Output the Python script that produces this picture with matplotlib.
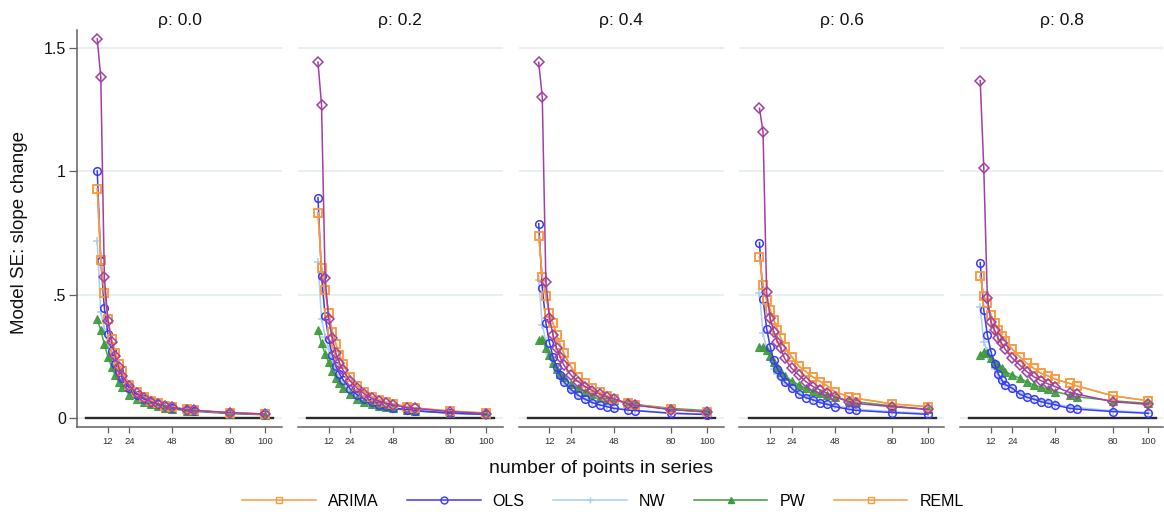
import matplotlib
matplotlib.use("Agg")
import matplotlib.pyplot as plt
from matplotlib.lines import Line2D

plt.rcParams['font.family'] = ['Liberation Sans', 'DejaVu Sans']

# ---------------- data ----------------
n_points = [6, 8, 10, 12, 14, 16, 18, 20, 24, 28, 32, 36, 40, 44, 48, 56, 60, 80, 100]
rho_labels = ["ρ: 0.0", "ρ: 0.2", "ρ: 0.4", "ρ: 0.6", "ρ: 0.8"]
x_ticks = [12, 24, 48, 80, 100]
y_ticks = [0, 0.5, 1, 1.5]
y_tick_labels = ["0", ".5", "1", "1.5"]

# rho = 0.0
kr_00 = [1.535, 1.38, 0.57, 0.393, 0.309, 0.251, 0.205, 0.171, 0.13, 0.10, 0.082, 0.066, 0.057, 0.049, 0.043, 0.034, 0.031, 0.022, 0.016]
ols_00 = [1.00, 0.636, 0.445, 0.34, 0.27, 0.22, 0.19, 0.16, 0.12, 0.095, 0.078, 0.064, 0.055, 0.047, 0.041, 0.033, 0.030, 0.020, 0.015]
arima_00 = [0.928, 0.64, 0.508, 0.40, 0.32, 0.265, 0.22, 0.19, 0.135, 0.105, 0.085, 0.07, 0.059, 0.05, 0.044, 0.035, 0.031, 0.021, 0.016]
nw_00 = [0.715, 0.43, 0.36, 0.30, 0.24, 0.20, 0.17, 0.145, 0.11, 0.088, 0.072, 0.06, 0.051, 0.045, 0.039, 0.031, 0.028, 0.019, 0.014]
pw_00 = [0.40, 0.356, 0.298, 0.248, 0.208, 0.174, 0.147, 0.127, 0.095, 0.078, 0.065, 0.055, 0.048, 0.042, 0.037, 0.030, 0.027, 0.018, 0.013]

# rho = 0.2
kr_02 = [1.441, 1.267, 0.565, 0.40, 0.323, 0.262, 0.224, 0.194, 0.15, 0.12, 0.097, 0.08, 0.069, 0.059, 0.053, 0.042, 0.039, 0.026, 0.018]
ols_02 = [0.892, 0.575, 0.414, 0.32, 0.255, 0.21, 0.18, 0.155, 0.118, 0.093, 0.076, 0.063, 0.054, 0.047, 0.041, 0.033, 0.030, 0.020, 0.015]
arima_02 = [0.831, 0.609, 0.518, 0.424, 0.35, 0.30, 0.255, 0.22, 0.165, 0.13, 0.105, 0.087, 0.074, 0.064, 0.057, 0.045, 0.041, 0.028, 0.020]
nw_02 = [0.633, 0.40, 0.33, 0.28, 0.23, 0.19, 0.16, 0.14, 0.105, 0.083, 0.068, 0.057, 0.049, 0.043, 0.038, 0.031, 0.028, 0.019, 0.014]
pw_02 = [0.356, 0.302, 0.26, 0.225, 0.19, 0.162, 0.14, 0.122, 0.096, 0.078, 0.065, 0.056, 0.049, 0.043, 0.039, 0.032, 0.029, 0.020, 0.015]

# rho = 0.4
kr_04 = [1.44, 1.298, 0.552, 0.406, 0.336, 0.282, 0.246, 0.215, 0.174, 0.147, 0.127, 0.111, 0.097, 0.086, 0.077, 0.058, 0.052, 0.034, 0.025]
ols_04 = [0.787, 0.528, 0.386, 0.305, 0.248, 0.208, 0.174, 0.147, 0.116, 0.093, 0.076, 0.062, 0.053, 0.046, 0.039, 0.032, 0.030, 0.019, 0.014]
arima_04 = [0.737, 0.572, 0.494, 0.426, 0.383, 0.336, 0.296, 0.262, 0.208, 0.167, 0.14, 0.12, 0.104, 0.09, 0.077, 0.06, 0.053, 0.035, 0.024]
nw_04 = [0.559, 0.377, 0.31, 0.26, 0.22, 0.19, 0.16, 0.14, 0.11, 0.09, 0.075, 0.063, 0.054, 0.047, 0.042, 0.034, 0.031, 0.021, 0.016]
pw_04 = [0.316, 0.318, 0.282, 0.255, 0.221, 0.20, 0.18, 0.165, 0.138, 0.12, 0.107, 0.096, 0.086, 0.078, 0.073, 0.059, 0.055, 0.039, 0.030]

# rho = 0.6
kr_06 = [1.254, 1.159, 0.511, 0.403, 0.35, 0.309, 0.282, 0.242, 0.201, 0.174, 0.147, 0.127, 0.113, 0.10, 0.086, 0.066, 0.059, 0.046, 0.035]
ols_06 = [0.71, 0.482, 0.362, 0.289, 0.235, 0.20, 0.17, 0.147, 0.12, 0.097, 0.082, 0.073, 0.062, 0.055, 0.046, 0.035, 0.031, 0.022, 0.015]
arima_06 = [0.653, 0.538, 0.478, 0.437, 0.397, 0.356, 0.323, 0.289, 0.248, 0.21, 0.188, 0.165, 0.147, 0.13, 0.107, 0.086, 0.08, 0.057, 0.046]
nw_06 = [0.505, 0.343, 0.28, 0.24, 0.20, 0.18, 0.16, 0.14, 0.125, 0.102, 0.088, 0.077, 0.067, 0.06, 0.051, 0.04, 0.036, 0.026, 0.019]
pw_06 = [0.289, 0.289, 0.275, 0.251, 0.228, 0.205, 0.188, 0.17, 0.15, 0.134, 0.12, 0.109, 0.10, 0.093, 0.086, 0.07, 0.066, 0.049, 0.035]

# rho = 0.8
kr_08 = [1.366, 1.011, 0.484, 0.39, 0.356, 0.323, 0.302, 0.278, 0.242, 0.215, 0.188, 0.167, 0.151, 0.138, 0.127, 0.103, 0.097, 0.066, 0.055]
ols_08 = [0.629, 0.437, 0.336, 0.269, 0.22, 0.18, 0.155, 0.135, 0.12, 0.097, 0.084, 0.076, 0.066, 0.059, 0.053, 0.039, 0.036, 0.026, 0.019]
arima_08 = [0.575, 0.494, 0.464, 0.417, 0.386, 0.356, 0.332, 0.313, 0.278, 0.248, 0.221, 0.201, 0.181, 0.17, 0.157, 0.14, 0.13, 0.09, 0.07]
nw_08 = [0.448, 0.309, 0.27, 0.24, 0.20, 0.17, 0.15, 0.135, 0.12, 0.10, 0.087, 0.078, 0.07, 0.063, 0.057, 0.045, 0.042, 0.03, 0.022]
pw_08 = [0.255, 0.269, 0.262, 0.242, 0.224, 0.215, 0.201, 0.188, 0.174, 0.161, 0.147, 0.134, 0.124, 0.116, 0.107, 0.093, 0.086, 0.07, 0.059]

# REML overlaps ARIMA in the picture
reml_00, reml_02, reml_04, reml_06, reml_08 = arima_00, arima_02, arima_04, arima_06, arima_08

kr = [kr_00, kr_02, kr_04, kr_06, kr_08]
ols = [ols_00, ols_02, ols_04, ols_06, ols_08]
arima = [arima_00, arima_02, arima_04, arima_06, arima_08]
nw = [nw_00, nw_02, nw_04, nw_06, nw_08]
pw = [pw_00, pw_02, pw_04, pw_06, pw_08]
reml = [reml_00, reml_02, reml_04, reml_06, reml_08]

# ---------------- style ----------------
C_ORANGE = "#FA9A3E"
C_BLUE = "#3B3BF2"
C_LBLUE = "#A8CFEE"
C_GREEN = "#3C9A3C"
C_PURPLE = "#A23FA2"
GRID = "#E6EFF1"
AXC = "#606060"

W, H = 1164, 518
fig = plt.figure(figsize=(W / 100, H / 100), dpi=100)

ax_left0 = 77
ax_step = 220.75
ax_w = 205
ax_bottom_px = 427
ax_top_px = 30

xlim = (-5.3, 109.3)
ylim = (-0.0364, 1.571)

for i in range(5):
    l = ax_left0 + i * ax_step
    w = min(ax_w, W - 1 - l)
    ax = fig.add_axes([l / W, (H - ax_bottom_px) / H, w / W, (ax_bottom_px - ax_top_px) / H])
    right = xlim[0] + (xlim[1] - xlim[0]) * w / ax_w
    ax.set_xlim(xlim[0], right)
    ax.set_ylim(*ylim)
    for yv in y_ticks:
        ax.axhline(yv, color=GRID, lw=1.4, zorder=0)
    ax.plot([0, 104.5], [0, 0], color="#2a2a2a", lw=1.7, zorder=1)

    kw = dict(lw=1.1, markersize=5.5, markerfacecolor="none", markeredgewidth=1.1)
    ax.plot(n_points, nw[i], color=C_LBLUE, marker="+", zorder=2, **kw)
    ax.plot(n_points, pw[i], color=C_GREEN, marker="^", zorder=3, lw=1.1,
            markersize=5.5, markerfacecolor=C_GREEN, markeredgewidth=0.8, alpha=0.9)
    ax.plot(n_points, ols[i], color=C_BLUE, marker="o", zorder=4, **kw)
    ax.plot(n_points, reml[i], color=C_ORANGE, marker="s", zorder=5, **kw)
    ax.plot(n_points, arima[i], color=C_ORANGE, marker="s", zorder=5, **kw)
    ax.plot(n_points, kr[i], color=C_PURPLE, marker="D", zorder=6,
            lw=1.1, markersize=5, markerfacecolor="none", markeredgewidth=1.1)

    ax.set_title(rho_labels[i], fontsize=12.5, pad=3.8, color="#111111")

    for s in ["top", "right"]:
        ax.spines[s].set_visible(False)
    ax.spines["bottom"].set_color(AXC)
    ax.spines["bottom"].set_linewidth(1.1)
    ax.set_xticks(x_ticks)
    ax.set_xticklabels([str(t) for t in x_ticks])
    ax.tick_params(axis="x", length=4, width=0.9, color=AXC, labelsize=6.8,
                   labelcolor="#333333", pad=3)
    if i == 0:
        ax.spines["left"].set_color(AXC)
        ax.spines["left"].set_linewidth(1.1)
        ax.set_yticks(y_ticks)
        ax.set_yticklabels(y_tick_labels)
        ax.tick_params(axis="y", length=6, width=0.9, color=AXC, labelsize=11.5,
                       labelcolor="#111111", pad=2)
    else:
        ax.spines["left"].set_visible(False)
        ax.set_yticks([])

fig.text(20 / W, (H - 233) / H, "Model SE: slope change", rotation=90,
         ha="center", va="center", fontsize=13.5, color="#111111")
fig.text(601 / W, (H - 473) / H, "number of points in series",
         ha="center", va="baseline", fontsize=14, color="#111111")

handles = [
    Line2D([], [], color=C_ORANGE, marker="s", markerfacecolor="none", markersize=5, lw=1.1),
    Line2D([], [], color=C_BLUE, marker="o", markerfacecolor="none", markersize=5, lw=1.1),
    Line2D([], [], color=C_LBLUE, marker="+", markersize=5, lw=1.1),
    Line2D([], [], color=C_GREEN, marker="^", markerfacecolor=C_GREEN, markersize=5, lw=1.1),
    Line2D([], [], color=C_ORANGE, marker="s", markerfacecolor="none", markersize=5, lw=1.1),
]
fig.legend(handles, ["ARIMA", "OLS", "NW", "PW", "REML"], loc="center",
           bbox_to_anchor=(603 / W, (H - 501) / H), ncol=5, frameon=False,
           fontsize=11.5, handlelength=4.6, handletextpad=0.75, columnspacing=1.8)

fig.savefig("out.png", dpi=100, facecolor="white")
